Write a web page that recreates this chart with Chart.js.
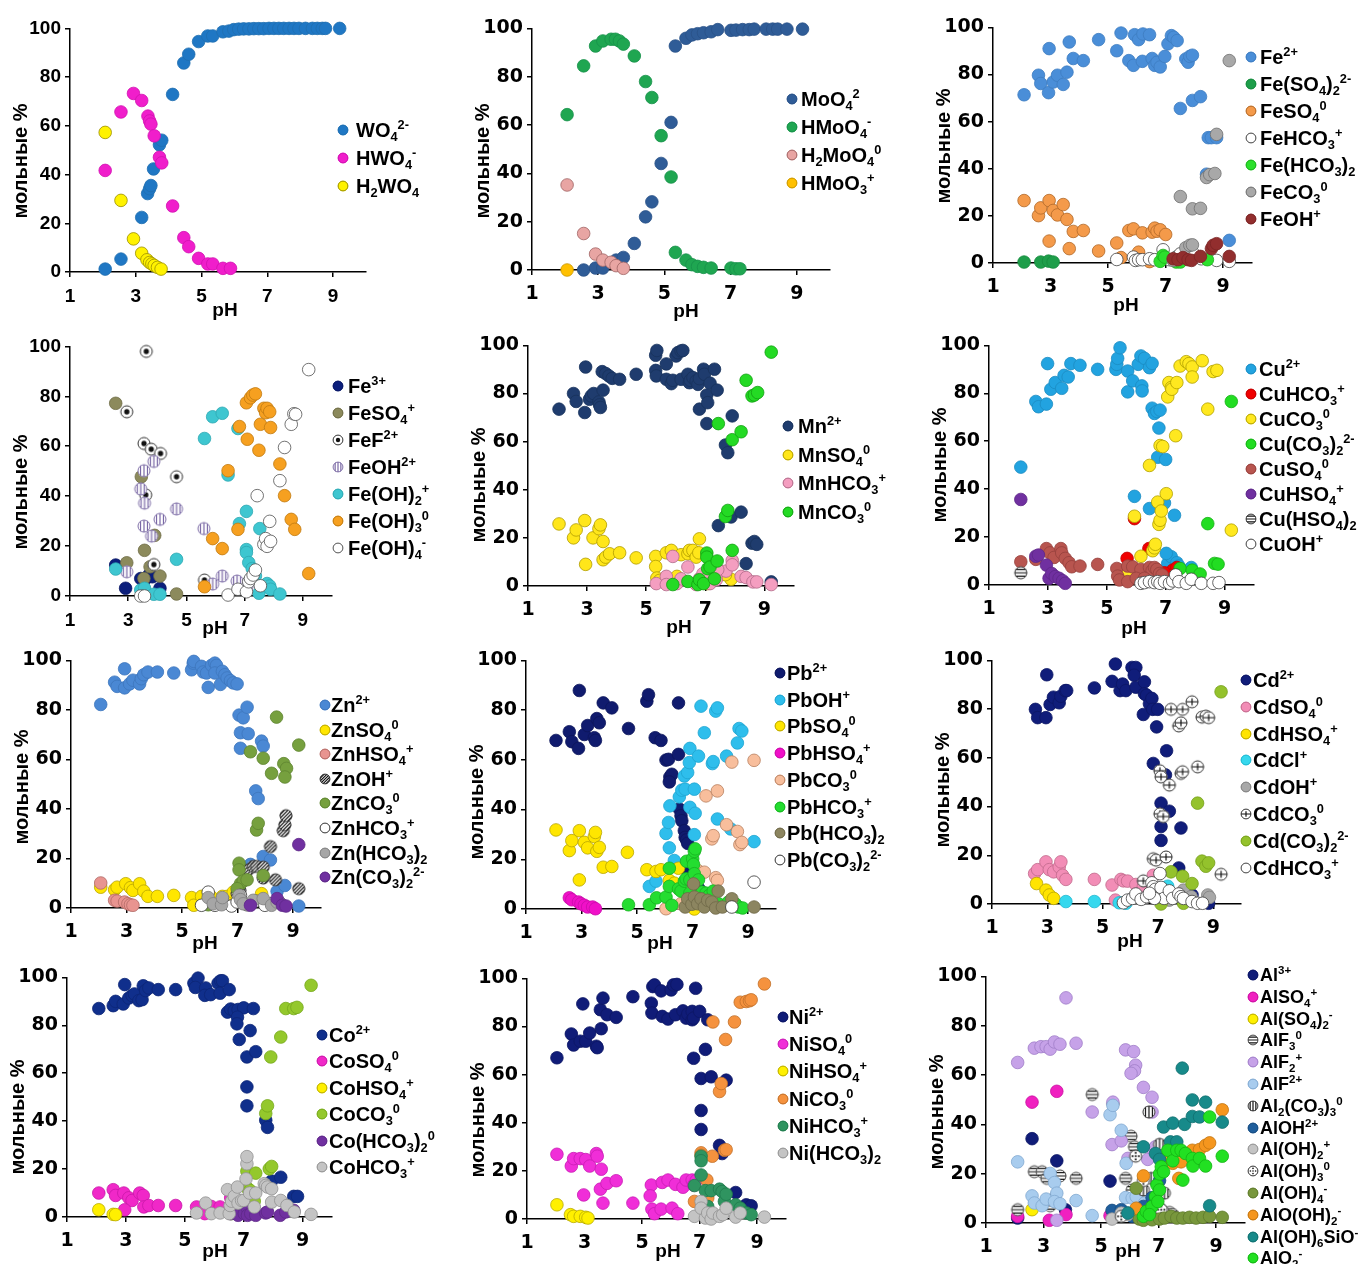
<!DOCTYPE html>
<html>
<head>
<meta charset="utf-8">
<script src="https://cdn.jsdelivr.net/npm/chart.js@4.4.0/dist/chart.umd.min.js"></script>
<style>
  body { margin: 0; background: #fff; width: 1360px; height: 1264px; position: relative; overflow: hidden; }
  canvas { position: absolute; }
  .lg { position: absolute; font-family: 'Liberation Sans', Arial, sans-serif; font-weight: bold; color: #000; white-space: nowrap; }
  .lg sub { font-size: 0.64em; vertical-align: -0.32em; line-height: 0; }
  .lg sup { font-size: 0.64em; vertical-align: 0.62em; line-height: 0; }
</style>
</head>
<body>
<script>
// axis ticks
const xTicks = [1, 3, 5, 7, 9];
const yTicks = [0, 20, 40, 60, 80, 100];

// --- W ---  [pH, mol %]
const wNames = ['WO<sub>4</sub><sup>2-</sup>', 'HWO<sub>4</sub><sup>-</sup>', 'H<sub>2</sub>WO<sub>4</sub>'];
const wo4 = [[2.07,1.2],[2.55,5.3],[3.18,22.4],[3.36,32.2],[3.42,34.2],[3.46,35.5],[3.54,42.3],[3.72,52.2],[3.79,54.1],[4.12,72.9],[4.46,85.8],[4.61,89.4],[4.91,94.6],[5.19,96.9],[5.34,96.9],[5.65,98.6],[5.83,98.9],[5.98,99.5],[6.13,99.7],[6.28,99.8],[6.44,99.8],[6.59,99.9],[6.74,99.9],[6.89,99.9],[7.05,100],[7.2,100],[7.35,100],[7.5,100],[7.66,100],[7.81,100],[7.96,100],[8.16,100],[8.37,100],[8.52,100],[8.67,100],[8.77,100],[9.2,100]];
const hwo4 = [[2.07,41.7],[2.55,65.7],[2.93,73.3],[3.18,70.4],[3.37,64.0],[3.42,62.0],[3.46,60.7],[3.56,55.9],[3.72,47.1],[3.79,44.8],[4.12,27.1],[4.46,14.1],[4.61,10.4],[4.91,5.6],[5.19,3.3],[5.34,3.3],[5.65,1.5],[5.88,1.5]];
const h2wo4 = [[2.07,57.3],[2.55,29.4],[2.93,13.6],[3.18,7.7],[3.34,5.0],[3.42,3.9],[3.49,3.3],[3.56,2.7],[3.66,1.9],[3.77,1.2]];

// --- Mo ---
const moNames = ['MoO<sub>4</sub><sup>2</sup>', 'HMoO<sub>4</sub><sup>-</sup>', 'H<sub>2</sub>MoO<sub>4</sub><sup>0</sup>', 'HMoO<sub>3</sub><sup>+</sup>'];
const moo4 = [[2.56,0],[2.92,0.8],[3.14,0.8],[3.54,4.1],[3.76,5.2],[4.09,11],[4.43,22],[4.62,28.2],[4.9,44.1],[5.2,61.1],[5.33,92.7],[5.65,95.9],[5.83,97.3],[6.0,97.8],[6.18,98.2],[6.41,98.6],[6.61,99.5],[7.01,99.2],[7.16,99.3],[7.36,99.5],[7.56,99.5],[7.71,99.7],[8.07,99.7],[8.27,99.7],[8.42,99.7],[8.7,99.7],[9.17,99.7]];
const hmoo4 = [[2.06,64.3],[2.56,84.5],[2.92,92.7],[3.14,94.8],[3.39,95.5],[3.52,95.5],[3.64,94.8],[3.76,93.5],[4.09,88.6],[4.43,78.0],[4.62,71.4],[4.9,55.6],[5.2,38.5],[5.33,7.3],[5.65,4.1],[5.83,2.2],[6.0,1.5],[6.18,1.1],[6.41,0.8],[7.01,0.8],[7.16,0.5],[7.28,0.5]];
const h2moo4 = [[2.06,35.2],[2.56,15.1],[2.92,6.6],[3.14,4.1],[3.39,3.2],[3.54,1.8],[3.76,0.7]];
const hmoo3 = [[2.06,0]];

// --- Fe(II) ---
const fe2Names = ['Fe<sup>2+</sup>', 'Fe(SO<sub>4</sub>)<sub>2</sub><sup>2-</sup>', 'FeSO<sub>4</sub><sup>0</sup>', 'FeHCO<sub>3</sub><sup>+</sup>', 'Fe(HCO<sub>3</sub>)<sub>2</sub>', 'FeCO<sub>3</sub><sup>0</sup>', 'FeOH<sup>+</sup>'];
const fe2 = [[2.08,71.4],[2.58,79.7],[2.66,76.2],[2.95,91.0],[2.93,72.3],[3.09,76.8],[3.24,79.7],[3.44,75.8],[3.57,81.0],[3.65,93.8],[3.79,86.8],[4.14,85.9],[4.67,94.8],[5.3,90.1],[5.45,97.6],[5.72,85.9],[5.88,83.9],[5.92,96.9],[6.06,94.8],[6.19,85.6],[6.21,97.2],[6.44,96.9],[6.53,86.8],[6.62,83.9],[6.7,85.2],[6.81,83.2],[6.97,87.7],[7.08,93.0],[7.2,96.5],[7.28,95.8],[7.4,94.4],[7.51,65.6],[7.7,86.6],[7.78,85.2],[7.84,87.7],[7.93,88.2],[7.93,69.0],[8.21,70.6],[8.48,53.2],[8.59,53.2],[8.77,53.2],[8.42,37.7],[9.21,9.6]];
const feso42 = [[2.08,0.4],[2.66,0.4],[2.93,0.8],[3.09,0.4]];
const feso4 = [[2.08,26.5],[2.58,20.1],[2.66,23.4],[2.95,26.5],[2.95,9.3],[3.09,22.3],[3.24,20.4],[3.44,24.8],[3.57,18.5],[3.65,6.1],[3.79,13.4],[4.14,13.8],[4.67,5.1],[5.3,8.5],[5.45,2.3],[5.72,13.8],[5.88,14.5],[6.06,4.6],[6.19,12.8],[6.53,13.1],[6.62,14.8],[6.7,13.5],[6.81,14.1],[7.0,12.1],[6.44,0.6]];
const fehco3 = [[5.3,1.5],[5.88,2.5],[5.95,1.1],[6.06,1.4],[6.19,1.4],[6.44,1.8],[6.62,1.4],[6.91,5.6],[7.14,1.4],[7.37,2.5],[7.51,3.9],[7.78,3.9],[7.93,4.6],[8.24,1.8],[8.77,1.1],[9.21,0.7]];
const fehco32 = [[6.81,0.7],[6.91,3.2],[6.97,2.5],[7.37,0.4],[7.51,0.4],[8.45,1.4]];
const feco3 = [[7.26,1.1],[7.51,28.2],[7.7,6.5],[7.84,7.5],[7.93,7.7],[7.93,23.0],[8.21,23.2],[8.42,36.3],[8.53,37.5],[8.71,38.0],[8.77,54.6],[9.21,85.9]];
const feoh = [[7.26,1.8],[7.43,1.4],[7.6,2.3],[7.78,1.4],[7.9,1.1],[8.21,2.8],[8.59,6.1],[8.65,7.5],[8.77,8.2],[9.21,2.8]];

// --- Fe(III) ---
const fe3Names = ['Fe<sup>3+</sup>', 'FeSO<sub>4</sub><sup>+</sup>', 'FeF<sup>2+</sup>', 'FeOH<sup>2+</sup>', 'Fe(OH)<sub>2</sub><sup>+</sup>', 'Fe(OH)<sub>3</sub><sup>0</sup>', 'Fe(OH)<sub>4</sub><sup>-</sup>'];
const fe3 = [[2.57,12.4],[2.91,3.1],[3.43,7.0],[3.56,6.4],[3.71,8.4],[3.83,7.7],[4.09,3.1]];
const feso4p = [[2.57,77.2],[2.95,13.3],[3.45,47.8],[3.56,18.3],[3.54,7.0],[3.75,11.7],[3.91,24.3],[4.09,8.0],[4.66,0.8]];
const fef = [[3.62,98.0],[2.95,73.8],[3.54,61.1],[3.79,58.8],[4.11,57.1],[3.6,40.5],[3.88,12.6],[4.66,47.8],[5.62,6.4]];
const feoh2 = [[2.95,9.7],[3.54,50.2],[3.43,42.9],[3.56,37.2],[3.54,28.0],[3.88,53.9],[3.8,24.0],[4.09,30.7],[4.66,34.9],[5.6,27.0],[5.9,4.8],[6.23,8.0],[6.74,6.0],[7.08,3.7]];
const feoh2p = [[2.57,10.8],[3.43,2.4],[3.56,3.1],[3.88,0.7],[4.09,0.7],[4.66,14.7],[5.62,63.1],[5.9,71.8],[6.23,73.2],[6.43,48.5],[6.77,67.1],[6.82,29.0],[7.06,33.9],[7.06,18.6],[7.06,17.4],[7.14,13.4],[7.26,11.0],[7.37,8.0],[7.49,1.1],[7.52,27.0],[7.77,5.0],[7.86,4.0],[7.89,2.7],[8.21,0.8]];
const feoh3 = [[5.62,3.7],[5.9,23.0],[6.23,19.0],[6.43,50.2],[6.77,26.7],[6.82,67.9],[7.06,77.4],[7.09,62.8],[7.2,79.4],[7.28,80.5],[7.37,81.0],[7.49,58.4],[7.54,68.8],[7.66,75.2],[7.72,73.4],[7.77,75.2],[7.86,73.8],[7.89,67.5],[8.21,52.9],[8.37,40.2],[8.6,30.7],[8.72,26.7],[9.2,9.0]];
const feoh4 = [[3.43,0],[3.56,0],[6.43,0.4],[6.77,2.7],[7.06,1.7],[7.14,5.7],[7.2,7.0],[7.29,8.4],[7.37,10.4],[7.43,40.2],[7.54,4.1],[7.66,20.7],[7.72,23.0],[7.77,19.9],[7.89,21.9],[7.86,29.9],[8.21,46.2],[8.37,59.5],[8.6,68.8],[8.69,73.0],[8.75,72.8],[9.2,90.7]];

// --- Mn ---
const mnNames = ['Mn<sup>2+</sup>', 'MnSO<sub>4</sub><sup>0</sup>', 'MnHCO<sub>3</sub><sup>+</sup>', 'MnCO<sub>3</sub><sup>0</sup>'];
const mn2 = [[2.05,73.5],[2.54,80.0],[2.63,76.7],[2.92,72.1],[2.95,91.0],[3.08,77.6],[3.14,79.0],[3.22,80.0],[3.4,76.5],[3.42,75.3],[3.45,74.2],[3.54,81.4],[3.51,89.1],[3.63,88.3],[3.74,87.3],[3.85,86.3],[4.1,85.9],[4.66,88.0],[5.32,95.9],[5.36,97.9],[5.32,89.6],[5.34,87.3],[5.68,92.3],[5.68,85.9],[5.85,84.1],[5.9,85.5],[6.01,95.6],[6.07,97.0],[6.18,97.7],[6.24,97.9],[6.18,85.9],[6.41,88.0],[6.46,84.5],[6.49,85.5],[6.58,86.6],[6.69,85.2],[6.75,83.8],[6.8,86.2],[6.8,73.5],[6.94,90.1],[6.97,88.0],[7.05,79.4],[7.08,76.2],[7.05,67.5],[7.16,84.3],[7.31,90.1],[7.4,81.4],[7.44,25.1],[7.68,58.6],[7.76,55.4],[7.91,70.7],[7.87,28.7],[8.21,30.7],[8.38,9.3],[8.58,17.8],[8.66,18.5],[8.74,17.3],[9.23,1.7]];
const mnso4 = [[2.05,25.8],[2.54,20.0],[2.63,23.3],[2.92,27.2],[2.95,9.0],[3.2,20.0],[3.4,23.8],[3.45,25.4],[3.54,18.5],[3.54,10.9],[3.63,12.0],[3.76,13.4],[4.1,13.8],[4.66,11.7],[5.32,12.3],[5.32,8.1],[5.36,3.3],[5.45,2.3],[5.68,13.8],[5.85,14.8],[6.04,4.0],[6.18,13.0],[6.41,13.4],[6.46,14.8],[6.58,14.8],[6.69,12.0],[6.78,13.8],[6.8,19.6],[7.08,1.0],[7.16,2.6],[7.87,2.8],[7.68,4.7]];
const mnhco3 = [[5.34,1.0],[5.68,4.0],[5.68,0.6],[5.9,12.3],[6.04,1.0],[6.18,3.0],[6.41,7.9],[6.69,0.6],[6.8,3.0],[6.92,5.1],[7.03,3.0],[7.16,1.0],[7.37,2.6],[7.48,6.2],[7.7,6.2],[7.91,10.6],[7.91,8.8],[8.21,4.0],[8.38,3.5],[8.61,1.7],[8.74,1.7],[9.23,0.6],[7.42,6.8]];
const mnco3 = [[5.9,0.6],[6.41,1.9],[6.75,0.6],[6.8,2.6],[6.94,1.0],[7.05,13.7],[7.05,12.0],[7.08,7.2],[7.16,7.9],[7.31,3.0],[7.4,10.4],[7.44,67.5],[7.68,28.9],[7.76,31.4],[7.91,14.8],[7.91,60.8],[8.21,64.1],[8.38,85.5],[8.58,79.0],[8.66,79.4],[8.77,80.4],[9.23,97.2]];

// --- Cu ---
const cuNames = ['Cu<sup>2+</sup>', 'CuHCO<sub>3</sub><sup>+</sup>', 'CuCO<sub>3</sub><sup>0</sup>', 'Cu(CO<sub>3</sub>)<sub>2</sub><sup>2-</sup>', 'CuSO<sub>4</sub><sup>0</sup>', 'CuHSO<sub>4</sub><sup>+</sup>', 'Cu(HSO<sub>4</sub>)<sub>2</sub>', 'CuOH<sup>+</sup>'];
const cu2 = [[2.08,49.2],[2.59,76.6],[2.68,74.4],[2.95,75.5],[2.99,92.4],[3.1,81.7],[3.25,84.5],[3.47,82.1],[3.55,87.5],[3.69,86.8],[3.78,92.4],[4.09,91.7],[4.69,90.0],[5.31,90.0],[5.34,92.1],[5.37,94.6],[5.45,99.0],[5.71,89.3],[5.71,80.6],[5.88,85.2],[5.94,37.0],[6.07,92.1],[6.16,95.6],[6.19,83.1],[6.2,81.0],[6.28,94.6],[6.45,90.7],[6.54,92.5],[6.45,31.9],[6.54,73.8],[6.62,71.6],[6.7,72.4],[6.81,73.0],[6.77,65.5],[6.73,53.3],[7.0,52.4],[6.96,34.2],[7.07,9.0],[7.19,11.8],[7.3,29.1],[7.38,9.3],[7.45,7.9],[7.87,7.3],[7.02,13.2]];
const cuhco3 = [[5.69,11.1],[5.94,27.7],[6.43,15.2],[7.24,6.2],[7.38,7.3],[6.96,5.1]];
const cuco3 = [[5.94,28.7],[5.69,6.0],[6.16,12.0],[6.45,49.9],[6.56,14.3],[6.62,15.5],[6.65,17.0],[6.73,34.6],[6.77,25.3],[6.81,27.0],[6.85,30.9],[6.81,58.2],[6.9,57.8],[7.02,38.1],[7.07,78.5],[7.11,84.5],[7.19,82.4],[7.21,81.7],[7.38,84.5],[7.34,62.3],[7.49,91.4],[7.7,93.2],[7.79,92.4],[7.9,91.0],[7.9,86.8],[8.24,93.6],[8.43,73.4],[8.61,89.1],[8.74,89.6],[9.23,22.9]];
const cuco32 = [[7.49,6.9],[7.9,6.2],[8.17,4.6],[8.43,25.6],[8.66,9.0],[8.78,8.7],[9.23,76.6]];
const cuso4 = [[2.08,9.7],[2.59,10.7],[2.95,15.2],[3.07,13.4],[3.21,11.5],[3.44,15.2],[3.47,13.4],[3.59,11.1],[3.72,9.3],[3.81,7.6],[4.09,7.9],[4.69,8.6],[5.34,6.9],[5.37,3.7],[5.43,2.1],[5.71,1.4],[5.71,7.9],[5.88,7.6],[6.16,6.5],[6.45,7.3],[6.54,6.0],[6.62,7.3],[6.7,6.5],[6.79,4.8],[6.88,4.2],[6.0,2.8],[6.28,2.8]];
const cuhso4 = [[2.08,35.7],[2.59,12.0],[2.68,12.5],[2.95,8.3],[3.04,2.8],[3.13,4.8],[3.25,3.5],[3.38,2.8],[3.5,1.8],[3.59,0.7]];
const cuhso42 = [[2.08,5.1]];
const cuoh = [[6.16,0.7],[6.28,1.0],[6.45,1.4],[6.62,1.0],[6.73,1.4],[6.81,0.7],[6.96,1.4],[7.13,0.7],[7.24,1.7],[7.34,4.2],[7.45,1.4],[7.7,0.7],[7.87,2.4],[8.21,0.7],[8.61,0.7],[8.81,1.0]];

// --- Zn ---
const znNames = ['Zn<sup>2+</sup>', 'ZnSO<sub>4</sub><sup>0</sup>', 'ZnHSO<sub>4</sub><sup>+</sup>', 'ZnOH<sup>+</sup>', 'ZnCO<sub>3</sub><sup>0</sup>', 'ZnHCO<sub>3</sub><sup>+</sup>', 'Zn(HCO<sub>3</sub>)<sub>2</sub>', 'Zn(CO<sub>3</sub>)<sub>2</sub><sup>2-</sup>'];
const zn2 = [[2.07,82.2],[2.57,91.2],[2.66,89.5],[2.93,88.9],[2.93,96.6],[3.11,90.5],[3.23,92.0],[3.47,90.5],[3.53,92.6],[3.62,94.2],[3.77,95.3],[4.11,95.3],[4.7,94.9],[5.34,96.2],[5.4,98.9],[5.42,99.6],[5.7,97.6],[5.76,95.3],[5.94,89.1],[5.88,94.9],[6.06,98.0],[6.18,98.9],[6.24,98.0],[6.18,94.9],[6.38,90.3],[6.45,95.6],[6.54,94.2],[6.62,92.9],[6.74,91.8],[6.84,90.9],[6.98,90.5],[7.05,77.9],[7.1,64.5],[7.1,70.8],[7.2,76.8],[7.34,81.1],[7.38,70.4],[7.65,47.3],[7.74,44.2],[7.86,67.4],[7.92,65.4],[7.92,20.8],[8.18,19.4],[7.46,17.6],[8.42,6.8],[8.7,9.1],[9.2,0.8]];
const znso4 = [[2.07,8.4],[2.57,7.4],[2.66,8.4],[2.97,9.8],[3.14,8.2],[3.23,7.1],[3.47,9.8],[3.62,6.8],[3.77,4.7],[4.11,4.7],[4.7,5.1],[5.34,4.2],[5.42,1.1],[5.7,4.7],[5.94,4.2],[6.06,4.4],[6.45,4.7],[6.62,4.7],[7.86,5.8],[6.84,6.4]];
const znhso4 = [[2.07,10.1],[2.57,3.1],[2.66,2.8],[2.93,2.4],[3.05,1.7],[3.14,1.3],[3.23,1.1]];
const znoh = [[7.38,15.4],[7.56,16.8],[7.68,16.8],[7.92,16.5],[7.92,12.1],[8.18,24.8],[8.36,11.4],[8.64,31.2],[8.7,33.6],[8.74,37.3],[9.2,7.8],[7.08,7.1],[6.98,5.8]];
const znco3 = [[5.94,1.3],[7.05,18.1],[7.05,15.4],[7.1,9.8],[7.2,10.9],[7.34,11.4],[7.46,63.1],[7.68,31.5],[7.74,34.2],[7.92,60.5],[7.92,13.1],[8.22,54.4],[8.4,77.1],[8.66,58.3],[8.76,56.4],[8.7,52.9],[9.2,65.8],[6.98,7.8]];
const znhco3 = [[5.7,1.1],[5.94,6.4],[6.18,1.1],[6.45,3.4],[6.78,0.8],[6.98,2.4],[7.1,5.1],[7.34,1.3],[7.65,2.8],[7.98,1.1],[8.22,1.7],[8.52,2.1]];
const znhco32 = [[5.94,4.2],[6.12,1.7],[6.42,1.3],[6.45,4.2],[7.05,5.1],[7.1,3.4],[7.2,1.7],[7.56,3.1],[7.92,3.8],[8.22,1.1],[8.42,2.4]];
const znco32 = [[7.46,1.1],[8.42,3.8],[8.61,1.1],[8.74,0.8],[9.2,25.6]];

// --- Pb ---
const pbNames = ['Pb<sup>2+</sup>', 'PbOH<sup>+</sup>', 'PbSO<sub>4</sub><sup>0</sup>', 'PbHSO<sub>4</sub><sup>+</sup>', 'PbCO<sub>3</sub><sup>0</sup>', 'PbHCO<sub>3</sub><sup>+</sup>', 'Pb(HCO<sub>3</sub>)<sub>2</sub>', 'Pb(CO<sub>3</sub>)<sub>2</sub><sup>2-</sup>'];
const pb2 = [[2.08,67.8],[2.56,71.3],[2.65,67.3],[2.89,64.6],[2.92,87.9],[3.1,70.2],[3.22,73.8],[3.46,68.9],[3.5,67.8],[3.55,76.6],[3.64,74.9],[3.78,82.9],[4.09,80.9],[4.69,72.6],[5.35,83.6],[5.41,86.2],[5.65,68.9],[5.86,67.8],[6.04,59.9],[6.13,60.2],[6.18,53.1],[6.25,54.2],[6.16,51.1],[6.49,82.9],[6.49,62.2],[6.52,40.2],[6.58,37.5],[6.61,35.5],[6.7,31.5],[6.73,28.8],[6.78,27.8],[6.82,26.4],[6.78,15.8],[7.23,8.1]];
const pboh = [[5.44,9.1],[5.68,11.2],[6.04,30.4],[6.13,34.8],[6.16,24.6],[6.18,41.5],[6.34,19.5],[6.52,45.1],[6.61,47.8],[6.7,53.5],[6.73,48.2],[6.82,54.9],[6.88,58.9],[6.9,64.6],[6.9,40.9],[7.06,29.9],[7.06,48.2],[7.09,38.5],[7.21,61.5],[7.3,81.6],[7.42,70.9],[7.71,58.5],[7.74,59.3],[7.83,79.6],[7.89,80.9],[7.89,36.2],[8.22,61.5],[8.37,32.2],[8.61,66.8],[8.67,72.6],[8.77,71.6],[9.21,27.1]];
const pbso4 = [[2.08,31.8],[2.56,23.5],[2.65,27.5],[2.92,31.5],[2.92,11.7],[3.1,26.8],[3.22,24.6],[3.46,29.1],[3.5,30.8],[3.55,23.2],[3.64,24.8],[3.78,16.8],[4.09,17.1],[4.65,22.8],[5.35,15.8],[5.68,15.1],[5.86,15.8],[6.16,11.5],[6.34,10.4],[6.49,16.4],[7.0,0.8],[7.06,0]];
const pbhso4 = [[2.56,4.5],[2.65,3.7],[2.89,2.8],[2.98,2.1],[3.1,1.5],[3.22,0.8],[3.4,0.8],[3.5,0.1]];
const pbco3 = [[6.04,0.1],[6.58,2.1],[6.88,7.5],[7.18,15.5],[7.42,14.8],[7.48,45.5],[7.69,28.2],[7.74,29.5],[7.83,12.6],[7.89,11.5],[7.89,47.5],[8.22,33.9],[8.41,59.1],[8.61,31.2],[8.7,25.9],[8.77,26.8],[9.21,59.8]];
const pbhco3 = [[4.69,1.7],[5.44,1.7],[5.7,4.5],[6.04,4.8],[6.16,16.4],[6.16,9.1],[6.25,1.5],[6.49,8.1],[6.58,7.2],[6.7,11.2],[6.76,12.1],[6.78,19.2],[6.9,11.7],[6.9,6.4],[7.0,20.2],[7.03,17.9],[7.06,23.2],[7.09,24.2],[7.06,14.2],[7.21,11.7],[7.34,6.8],[7.48,6.4],[7.6,5.5],[7.74,7.2],[7.93,2.1],[8.29,2.8],[8.53,2.1],[8.65,0.8],[8.8,0.4]];
const pbhco32 = [[6.73,0.8],[6.82,4.1],[6.97,1.9],[7.03,10.1],[7.06,4.8],[7.18,2.1],[7.3,4.1],[7.42,0.8],[7.54,3.5],[7.69,2.8],[7.83,0.4],[7.92,7.2],[8.07,0.8],[8.41,4.1],[9.21,0.8]];
const pbco32 = [[8.41,0.8],[9.21,10.8]];

// --- Cd ---
const cdNames = ['Cd<sup>2+</sup>', 'CdSO<sub>4</sub><sup>0</sup>', 'CdHSO<sub>4</sub><sup>+</sup>', 'CdCl<sup>+</sup>', 'CdOH<sup>+</sup>', 'CdCO<sub>3</sub><sup>0</sup>', 'Cd(CO<sub>3</sub>)<sub>2</sub><sup>2-</sup>', 'CdHCO<sub>3</sub><sup>+</sup>'];
const cd2 = [[2.57,79.9],[2.65,76.5],[2.95,76.5],[2.98,94.1],[3.1,81.9],[3.22,84.9],[3.43,82.6],[3.49,85.3],[3.65,87.6],[3.7,87.6],[4.7,88.7],[5.34,91.4],[5.46,98.5],[5.63,87.6],[5.72,90.3],[5.84,87.6],[6.06,97.1],[6.2,97.1],[6.14,93.9],[6.2,89.0],[6.47,77.8],[6.51,91.2],[6.51,86.3],[6.59,85.7],[6.69,82.2],[6.78,84.4],[6.81,79.9],[6.99,79.9],[6.95,72.7],[6.83,57.7],[7.11,41.4],[7.27,53.0],[7.31,62.9],[7.41,38.1],[7.11,31.8],[7.11,26.1],[7.83,31.2],[7.75,14.8],[8.23,3.7],[8.83,0.3]];
const cdso4 = [[2.54,12.5],[2.65,14.1],[2.95,17.3],[3.07,14.1],[3.23,13.2],[3.43,15.2],[3.49,17.3],[3.55,11.8],[3.67,10.1],[4.7,10.1],[5.34,7.8],[5.66,10.1],[5.75,9.5],[5.9,9.4],[6.2,8.0],[6.47,7.1],[6.83,11.8],[5.46,1.6]];
const cdhso4 = [[2.61,8.4],[2.95,5.7],[3.07,3.7],[3.23,2.3]];
const cdcl = [[3.67,1.0],[4.7,1.0],[5.6,0.5],[7.35,7.3],[5.84,0.3]];
const cdoh = [[7.92,5.7],[8.2,3.0],[8.8,3.7],[8.86,2.7],[7.41,1.6],[6.51,2.3]];
const cdco3 = [[7.47,79.9],[7.89,79.9],[8.23,83.0],[7.75,73.1],[7.83,74.4],[8.43,56.3],[7.83,53.6],[7.89,54.3],[7.07,54.7],[7.11,52.2],[7.41,48.8],[7.07,37.0],[7.19,35.9],[8.59,76.7],[8.73,77.1],[8.83,76.5],[6.83,18.6],[6.93,18.0],[7.29,19.3],[9.28,12.2],[6.47,9.5]];
const cdco32 = [[7.11,0],[7.47,13.2],[7.89,11.4],[8.23,8.4],[8.43,41.4],[8.59,17.6],[8.73,15.5],[8.83,16.9],[9.28,87.1],[7.92,0.3]];
const cdhco3 = [[5.75,0.5],[5.9,1.6],[6.08,2.3],[6.2,4.1],[6.39,1.9],[6.59,3.0],[6.78,8.7],[6.83,7.1],[6.9,6.0],[7.02,3.0],[7.07,12.5],[7.11,6.8],[7.22,2.3],[7.41,5.4],[7.53,2.3],[7.75,4.1],[7.83,3.0],[7.92,2.3],[8.23,1.0],[8.43,0.3],[8.61,0.3],[6.87,2.3],[6.69,4.4]];

// --- Co ---
const coNames = ['Co<sup>2+</sup>', 'CoSO<sub>4</sub><sup>0</sup>', 'CoHSO<sub>4</sub><sup>+</sup>', 'CoCO<sub>3</sub><sup>0</sup>', 'Co(HCO<sub>3</sub>)<sub>2</sub><sup>0</sup>', 'CoHCO<sub>3</sub><sup>+</sup>'];
const co2 = [[2.08,87.0],[2.57,88.2],[2.65,90.0],[2.91,88.9],[2.96,97.0],[3.1,91.4],[3.21,92.4],[3.29,93.1],[3.44,90.3],[3.55,90.7],[3.59,96.5],[3.67,94.5],[3.78,95.6],[4.1,94.9],[4.69,94.9],[5.31,97.6],[5.45,99.7],[5.36,95.8],[5.71,95.6],[5.68,92.5],[5.88,92.8],[6.13,97.6],[6.22,98.6],[6.28,98.6],[6.2,93.4],[6.51,94.9],[6.45,85.5],[6.56,86.8],[6.68,86.1],[6.81,86.6],[7.0,87.3],[6.79,83.4],[6.77,80.6],[6.85,74.1],[7.11,66.8],[7.22,77.8],[7.33,87.0],[7.41,69.0],[7.11,54.3],[7.11,46.4],[7.75,40.4],[7.81,37.4],[7.95,15.0],[8.26,16.6],[8.7,8.6],[8.83,8.6]];
const coso4 = [[2.08,10.0],[2.57,11.4],[2.65,9.0],[2.93,10.0],[3.1,8.0],[3.21,6.9],[3.47,10.0],[3.59,9.0],[3.61,4.2],[3.78,4.8],[4.1,4.8],[4.69,4.8],[5.4,4.2],[5.9,4.4],[6.2,4.2],[6.56,8.0],[2.96,3.0],[5.68,1.4]];
const cohso4 = [[2.08,3.0],[2.57,1.1],[2.65,1.0]];
const coco3 = [[7.11,19.1],[7.11,12.2],[7.22,11.1],[7.36,6.6],[7.41,18.3],[7.75,43.2],[7.81,46.4],[7.87,20.1],[7.95,21.1],[7.92,66.8],[8.26,75.1],[8.43,87.0],[8.7,87.0],[8.81,87.5],[9.29,96.7],[6.58,1.4],[6.81,4.4]];
const cohco32 = [[6.56,1.4],[6.81,0.7],[7.02,1.4],[7.11,3.9],[7.13,0.7],[7.24,1.4],[7.41,0.7],[7.75,1.7],[7.81,2.1],[8.24,0.7],[8.43,2.1],[8.7,2.8]];
const cohco3 = [[5.71,5.8],[5.4,1.7],[5.9,1.4],[6.2,1.7],[6.45,11.4],[6.51,1.4],[6.54,4.8],[6.59,6.6],[6.68,8.6],[6.79,12.5],[6.81,5.8],[6.93,6.9],[7.0,6.9],[7.08,15.9],[7.11,22.2],[7.11,25.2],[7.2,10.0],[7.36,4.2],[7.41,10.0],[7.7,13.9],[7.75,13.2],[7.81,12.5],[7.95,11.8],[7.95,6.2],[8.26,6.9],[8.47,4.8],[8.72,2.1],[9.29,1.1]];

// --- Ni ---
const niNames = ['Ni<sup>2+</sup>', 'NiSO<sub>4</sub><sup>0</sup>', 'NiHSO<sub>4</sub><sup>+</sup>', 'NiCO<sub>3</sub><sup>0</sup>', 'NiHCO<sub>3</sub><sup>+</sup>', 'Ni(HCO<sub>3</sub>)<sub>2</sub>'];
const ni2 = [[2.04,67.0],[2.54,76.9],[2.62,72.3],[2.85,73.9],[2.94,89.4],[3.04,73.9],[3.18,77.3],[3.41,71.8],[3.44,71.2],[3.58,79.1],[3.55,87.0],[3.64,91.8],[3.78,84.9],[4.1,83.8],[4.68,92.4],[5.32,89.7],[5.34,85.6],[5.37,96.6],[5.43,97.3],[5.66,94.8],[5.7,84.2],[5.9,83.1],[6.01,95.2],[6.09,97.3],[6.21,97.5],[6.16,84.9],[6.42,86.5],[6.53,83.5],[6.59,85.2],[6.74,82.8],[6.74,86.3],[6.79,83.5],[7.0,86.3],[6.79,66.8],[6.86,95.9],[7.05,58.4],[7.05,45.1],[7.05,37.2],[7.2,70.5],[7.28,82.8],[7.4,59.1],[7.69,30.6],[7.78,27.2],[7.92,57.7],[8.25,11.0],[8.62,5.9],[8.79,5.5]];
const niso4 = [[2.04,26.9],[2.54,22.0],[2.62,25.1],[2.85,25.1],[2.97,10.0],[3.04,24.7],[3.18,22.0],[3.41,27.2],[3.44,26.1],[3.58,20.7],[3.55,12.4],[3.64,6.6],[3.78,14.8],[4.1,15.9],[4.68,6.6],[5.32,14.1],[5.28,9.6],[5.34,4.1],[5.43,2.2],[5.66,4.1],[5.7,15.2],[5.9,16.2],[6.04,4.5],[6.16,14.4],[6.24,2.2],[6.42,13.2],[6.53,16.2],[6.74,16.2],[6.79,14.1],[6.88,15.9]];
const nihso4 = [[2.04,5.9],[2.51,1.8],[2.62,1.1],[2.85,1.1],[3.04,0.7],[3.12,0.4]];
const nico3 = [[6.82,7.3],[7.05,27.5],[7.05,26.5],[7.25,16.2],[7.28,8.7],[7.46,81.9],[7.44,26.1],[7.69,53.0],[7.75,56.3],[7.9,74.6],[7.86,28.6],[7.92,28.8],[8.21,81.9],[8.41,90.1],[8.62,90.4],[8.73,90.7],[8.79,91.1],[9.25,97.7]];
const nihco3 = [[6.82,13.9],[7.05,26.1],[7.05,24.2],[7.05,18.3],[7.2,11.8],[7.28,5.2],[7.4,11.8],[7.69,12.4],[7.78,11.4],[7.86,7.3],[7.92,10.3],[8.25,5.9],[8.41,4.5],[8.62,2.5],[8.79,1.8]];
const nihco32 = [[6.82,1.1],[7.05,7.3],[7.05,4.5],[7.2,0.4],[7.28,2.5],[7.4,0],[7.46,2.5],[7.69,1.1],[7.8,1.8],[7.92,4.5],[8.25,0.8],[8.41,2.5],[9.25,0.8]];

// --- Al ---
const alNames = ['Al<sup>3+</sup>', 'AlSO<sub>4</sub><sup>+</sup>', 'Al(SO<sub>4</sub>)<sub>2</sub><sup>-</sup>', 'AlF<sub>3</sub><sup>0</sup>', 'AlF<sub>2</sub><sup>+</sup>', 'AlF<sup>2+</sup>', 'Al<sub>2</sub>(CO<sub>3</sub>)<sub>3</sub><sup>0</sup>', 'AlOH<sup>2+</sup>', 'Al(OH)<sub>2</sub><sup>+</sup>', 'Al(OH)<sub>3</sub><sup>0</sup>', 'Al(OH)<sub>4</sub><sup>-</sup>', 'AlO(OH)<sub>2</sub><sup>-</sup>', 'Al(OH)<sub>6</sub>SiO<sup>-</sup>', 'AlO<sub>2</sub><sup>-</sup>'];
const al3 = [[2.1,2.0],[2.6,34.2],[3.46,25.2],[3.76,5.4],[5.31,17.0]];
const also4 = [[2.1,2.7],[2.6,49.0],[3.2,1.1],[3.46,53.4],[3.78,3.4],[5.31,3.0]];
const also42 = [[2.6,5.4]];
const alf3 = [[2.1,5.4],[2.68,20.8],[2.95,20.8],[3.11,18.1],[3.23,7.0],[3.38,10.1],[3.57,19.1],[4.13,18.1],[4.69,52.1],[5.41,48.3],[5.85,18.1],[6.04,35.2],[6.16,30.9],[6.08,13.4],[7.03,6.0],[7.12,4.7],[7.2,4.0],[7.38,4.3],[7.49,3.4]];
const alf2 = [[2.1,65.1],[2.68,70.9],[2.91,71.5],[3.09,71.5],[3.23,70.5],[3.38,73.4],[3.57,72.5],[3.78,91.3],[4.13,72.9],[4.69,45.0],[5.41,49.0],[5.38,31.8],[5.7,33.3],[5.85,70.2],[6.13,69.5],[6.2,64.0],[6.16,61.7],[6.04,60.7],[5.93,26.2],[6.47,55.0],[6.77,51.0],[6.77,45.0],[6.62,25.8],[6.8,29.8],[6.89,30.9],[3.46,1.1]];
const alf = [[2.1,24.8],[2.6,11.0],[2.68,8.1],[2.95,7.0],[3.09,9.7],[3.23,20.1],[3.38,16.4],[3.46,12.1],[3.38,8.7],[3.57,7.8],[4.13,9.1],[4.69,3.0],[5.31,43.9],[5.41,47.7],[5.7,37.6],[5.87,24.2],[5.85,10.3],[6.08,10.1],[6.22,10.7],[6.51,8.1]];
const al2co33 = [[6.66,45.0],[7.03,31.9],[6.74,18.1],[6.47,13.4],[7.2,12.1],[6.74,7.8],[7.14,4.7]];
const aloh2 = [[5.38,5.1],[5.7,5.4],[5.93,4.0],[6.08,2.7],[6.22,3.4],[6.47,6.7],[6.77,10.3],[7.03,17.2]];
const aloh2p = [[5.38,1.6],[5.7,4.0],[5.93,3.4],[6.33,2.0],[6.86,6.7]];
const aloh3 = [[5.7,2.7],[6.2,27.1],[6.47,17.2],[6.74,6.0],[7.09,5.4]];
const aloh4 = [[6.22,14.1],[6.33,1.6],[6.47,1.1],[6.77,1.3],[7.03,1.6],[7.2,2.0],[7.43,2.7],[7.63,2.0],[7.84,2.0],[8.07,2.3],[8.3,2.0],[8.54,2.3],[8.77,2.7],[9.21,2.3]];
const alooh2 = [[6.47,19.1],[6.22,6.0],[7.14,25.8],[7.49,24.2],[7.78,24.8],[7.7,18.1],[8.17,29.5],[8.42,29.8],[8.63,31.5],[8.77,32.5],[9.21,45.9]];
const aloh6sio = [[5.93,4.0],[6.47,30.9],[6.89,28.2],[7.03,25.8],[7.17,38.9],[7.49,40.5],[7.41,32.9],[7.63,32.9],[7.82,62.8],[7.9,40.0],[8.17,49.9],[8.17,43.2],[8.42,43.0],[8.63,49.0],[8.77,7.0],[9.21,40.9]];
const alo2 = [[6.47,2.7],[6.57,4.7],[6.77,6.7],[6.89,10.7],[6.94,15.4],[7.03,19.9],[7.09,22.8],[7.17,20.8],[7.32,29.5],[7.49,25.2],[7.63,29.5],[7.78,29.5],[7.84,17.4],[7.93,28.2],[8.17,26.2],[8.19,23.1],[8.42,26.2],[8.63,23.1],[8.77,43.0],[9.21,27.1],[6.68,3.4],[7.03,13.4],[6.97,8.7]];

// marker styles: [fill, border]; 'pat:*' = hatched white marker
const wStyle = [['#1F77C4','#1F6FB0'],['#F01ECB','#D010B0'],['#FFF200','#9A8E00']];
const moStyle = [['#2F5C97','#2A5288'],['#1FA651','#17904A'],['#E8A5A3','#A06464'],['#FFC000','#C89600']];
const fe2Style = [['#4A8ED8','#3E7CC0'],['#1E9E4A','#168A3E'],['#F49A4A','#B06828'],['#FFFFFF','#404040'],['#2CE02C','#1CB01C'],['#A8A8A8','#707070'],['#922E2E','#7A2424']];
const fe3Style = [['#0C1F7C','#0A1866'],['#8C8A5C','#6E6C46'],['pat:dot','#303030'],['pat:vpurple','#8070A8'],['#3EC6D0','#2EA8B2'],['#F6A020','#C07A10'],['#FFFFFF','#505050']];
const mnStyle = [['#1F3C6E','#18325C'],['#FFE61A','#B09C00'],['#F49EC0','#B06A88'],['#24DA24','#12A012']];
const cuStyle = [['#22A3E0','#1C8CC2'],['#F00000','#C00000'],['#FFE81F','#B0A000'],['#22DD22','#14B014'],['#B8554F','#96403C'],['#7030A0','#5E2888'],['pat:hline','#303030'],['#FFFFFF','#404040']];
const znStyle = [['#4A88D4','#3E76BC'],['#FFE600','#B8A400'],['#E89490','#B06864'],['pat:diag','#303030'],['#76A03E','#5E8430'],['#FFFFFF','#303030'],['#A6A6A6','#808080'],['#7030A0','#5E2888']];
const pbStyle = [['#101B6E','#0C155A'],['#2EBEEC','#20A4D0'],['#FFE600','#B8A400'],['#F010C8','#C80CA8'],['#F8BE9C','#B88060'],['#24DD30','#16B020'],['#8C8560','#6E6848'],['#FFFFFF','#303030']];
const cdStyle = [['#101D7A','#0C1664'],['#F28DB6','#C06A8C'],['#FFE400','#B8A400'],['#36D8EE','#20B8D0'],['#A8A8A8','#808080'],['pat:cross','#303030'],['#94C22C','#76A01C'],['#FFFFFF','#404040']];
const coStyle = [['#102F8C','#0C2676'],['#F028C8','#C818A8'],['#FFF000','#B8AA00'],['#94C82C','#76A81C'],['#7030A0','#5E2888'],['#C4C4C4','#909090']];
const niStyle = [['#101C78','#0C1664'],['#F02ED8','#C81CB4'],['#FFF000','#B8AA00'],['#F5923E','#C0702A'],['#2F9460','#207A4C'],['#C4C4C4','#909090']];
const alStyle = [['#101C78','#0C1664'],['#F020C0','#C810A0'],['#FFF000','#B8AA00'],['pat:hline','#404040'],['#C6A2E8','#A07EC8'],['#A8CCEE','#80A8D0'],['pat:vline','#303030'],['#1F5E9C','#184C80'],['#C4C4C4','#909090'],['pat:dots','#303030'],['#78973C','#5E7A2C'],['#F5961E','#C07410'],['#178A8A','#106E6E'],['#22E022','#14B414']];

const panels = [
  { names: wNames, series: [wo4, hwo4, h2wo4], style: wStyle },
  { names: moNames, series: [moo4, hmoo4, h2moo4, hmoo3], style: moStyle },
  { names: fe2Names, series: [fe2, feso42, feso4, fehco3, fehco32, feco3, feoh], style: fe2Style },
  { names: fe3Names, series: [fe3, feso4p, fef, feoh2, feoh2p, feoh3, feoh4], style: fe3Style },
  { names: mnNames, series: [mn2, mnso4, mnhco3, mnco3], style: mnStyle },
  { names: cuNames, series: [cu2, cuhco3, cuco3, cuco32, cuso4, cuhso4, cuhso42, cuoh], style: cuStyle },
  { names: znNames, series: [zn2, znso4, znhso4, znoh, znco3, znhco3, znhco32, znco32], style: znStyle },
  { names: pbNames, series: [pb2, pboh, pbso4, pbhso4, pbco3, pbhco3, pbhco32, pbco32], style: pbStyle },
  { names: cdNames, series: [cd2, cdso4, cdhso4, cdcl, cdoh, cdco3, cdco32, cdhco3], style: cdStyle },
  { names: coNames, series: [co2, coso4, cohso4, coco3, cohco32, cohco3], style: coStyle },
  { names: niNames, series: [ni2, niso4, nihso4, nico3, nihco3, nihco32], style: niStyle },
  { names: alNames, series: [al3, also4, also42, alf3, alf2, alf, al2co33, aloh2, aloh2p, aloh3, aloh4, alooh2, aloh6sio, alo2], style: alStyle }
];

// page layout of each panel (pixels): axis frame, axis titles, legend [markerX, firstY, step, textX, fontSize]
// wide: the tick numbers in that panel of the original are drawn wider
const frames = [
  { x0: 70,  x10: 366,  yT: 27,  yB: 272,  phX: 225,  phY: 311,  tY: 161,  wide: false, leg: [343, 130, 28, 356, 20] },
  { x0: 532, x10: 830,  yT: 27,  yB: 270,  phX: 686,  phY: 312,  tY: 161,  wide: true,  leg: [792, 99, 28, 801, 20] },
  { x0: 993, x10: 1252, yT: 26,  yB: 263,  phX: 1126, phY: 306,  tY: 146,  wide: true,  leg: [1251, 57, 27, 1260, 20] },
  { x0: 70,  x10: 332,  yT: 345, yB: 596,  phX: 215,  phY: 629,  tY: 492,  wide: false, leg: [338, 386, 27, 348, 20] },
  { x0: 528, x10: 794,  yT: 344, yB: 586,  phX: 679,  phY: 628,  tY: 485,  wide: true,  leg: [788, 426, 28.7, 798, 20] },
  { x0: 989, x10: 1254, yT: 344, yB: 585,  phX: 1134, phY: 629,  tY: 465,  wide: true,  leg: [1251, 369, 25, 1259, 20] },
  { x0: 71,  x10: 321,  yT: 659, yB: 908,  phX: 205,  phY: 944,  tY: 787,  wide: true,  leg: [325, 705, 24.6, 331, 20] },
  { x0: 526, x10: 776,  yT: 659, yB: 909,  phX: 660,  phY: 944,  tY: 802,  wide: true,  leg: [780, 673, 26.7, 787, 20] },
  { x0: 992, x10: 1241, yT: 659, yB: 904,  phX: 1130, phY: 942,  tY: 790,  wide: true,  leg: [1246, 680, 26.8, 1253, 20] },
  { x0: 67,  x10: 332,  yT: 976, yB: 1217, phX: 215,  phY: 1252, tY: 1117, wide: true,  leg: [322, 1035, 26.4, 329, 20] },
  { x0: 527, x10: 786,  yT: 977, yB: 1219, phX: 668,  phY: 1252, tY: 1120, wide: true,  leg: [783, 1017, 27.2, 789, 20] },
  { x0: 986, x10: 1245, yT: 975, yB: 1223, phX: 1128, phY: 1252, tY: 1112, wide: true,  leg: [1253, 975, 21.8, 1260, 18] }
];

const FONT = "'Liberation Sans', Arial, sans-serif";
const WIDE_FONT = "'DejaVu Sans', 'Liberation Sans', sans-serif";

function hatch(g, kind, m, r) {
  g.strokeStyle = kind === 'vpurple' ? '#7A68A6' : '#111';
  g.fillStyle = '#111';
  g.lineWidth = 1.2;
  const st = r * 0.55;
  g.beginPath();
  for (let k = -2; k <= 2; k++) {
    const d = k * st;
    if (kind === 'hline' && Math.abs(k) < 2) { g.moveTo(m - r, m + d); g.lineTo(m + r, m + d); }
    if ((kind === 'vline' || kind === 'vpurple') && Math.abs(k) < 2) { g.moveTo(m + d, m - r); g.lineTo(m + d, m + r); }
    if (kind === 'diag') { g.moveTo(m + d - r, m + r); g.lineTo(m + d + r, m - r); }
  }
  if (kind === 'cross') { g.moveTo(m - r, m); g.lineTo(m + r, m); g.moveTo(m, m - r * 0.55); g.lineTo(m, m + r * 0.55); }
  g.stroke();
  if (kind === 'dot') { g.beginPath(); g.arc(m, m, r * 0.42, 0, 2 * Math.PI); g.fill(); }
  if (kind === 'dots') {
    for (let i = -1; i <= 1; i++) for (let j = -1; j <= 1; j++) {
      if (i && j) continue;
      g.beginPath(); g.arc(m + i * r * 0.5, m + j * r * 0.5, r * 0.16, 0, 2 * Math.PI); g.fill();
    }
  }
}

function markerCanvas(fill, stroke, r) {
  const s = Math.ceil(2 * r + 3), m = s / 2;
  const c = document.createElement('canvas');
  c.width = c.height = s;
  const g = c.getContext('2d');
  const pat = fill.startsWith('pat:');
  g.beginPath(); g.arc(m, m, r, 0, 2 * Math.PI);
  g.fillStyle = pat ? '#fff' : fill;
  g.fill();
  if (pat) { g.save(); g.clip(); hatch(g, fill.slice(4), m, r); g.restore(); }
  g.lineWidth = 1; g.strokeStyle = stroke;
  g.beginPath(); g.arc(m, m, r - 0.3, 0, 2 * Math.PI); g.stroke();
  return c;
}

// draws pH and "мольные %" titles where the original figure has them
const axisTitles = {
  id: 'axisTitles',
  afterDraw(chart, args, o) {
    const c = chart.ctx;
    c.save();
    c.fillStyle = '#000';
    c.textAlign = 'center';
    c.textBaseline = 'middle';
    c.font = 'bold 19px ' + FONT;
    c.fillText('pH', o.px, o.py);
    c.font = 'bold 20px ' + FONT;
    c.translate(o.tx, o.ty);
    c.rotate(-Math.PI / 2);
    c.fillText('мольные %', 0, 0);
    c.restore();
  }
};

const L = 62, T = 14, R = 14;

panels.forEach((p, k) => {
  const f = frames[k];
  const B = f.phY + 14 - f.yB;
  const w = f.x10 - f.x0 + L + R, h = f.yB - f.yT + T + B;
  const left = f.x0 - L, top = f.yT - T;
  const cv = document.createElement('canvas');
  cv.width = w; cv.height = h;
  cv.style.left = left + 'px'; cv.style.top = top + 'px';
  document.body.appendChild(cv);

  const n = p.series.length;
  const datasets = p.series.map((pts, i) => {
    const [fill, stroke] = p.style[i];
    const pat = fill.startsWith('pat:');
    return {
      label: p.names[i].replace(/<[^>]+>/g, ''),
      data: pts.map(([x, y]) => ({ x, y })),
      pointStyle: pat ? markerCanvas(fill, stroke, 6.3) : 'circle',
      pointRadius: 6.3,
      backgroundColor: pat ? '#fff' : fill,
      borderColor: stroke,
      borderWidth: 0.8,
      order: n - i,
      clip: false
    };
  });

  const tickFont = { family: f.wide ? WIDE_FONT : FONT, size: 19, weight: 'bold' };
  const axisBase = {
    type: 'linear',
    grid: { display: true, drawOnChartArea: false, drawTicks: true, tickLength: 5, color: '#000', lineWidth: 1.5 },
    border: { display: true, color: '#000', width: 1.5 },
    title: { display: false }
  };

  new Chart(cv, {
    type: 'scatter',
    data: { datasets },
    options: {
      responsive: false,
      animation: false,
      layout: { padding: { left: 0, top: T, right: R, bottom: 0 } },
      plugins: {
        legend: { display: false },
        tooltip: { enabled: false },
        axisTitles: { px: f.phX - left, py: f.phY - top, tx: f.x0 - 49 - left, ty: f.tY - top }
      },
      scales: {
        x: Object.assign({}, axisBase, {
          min: 1, max: 10,
          afterBuildTicks: s => { s.ticks = xTicks.map(v => ({ value: v })); },
          afterFit: s => { s.height = B; },
          ticks: { color: '#000', font: tickFont, padding: 8, maxRotation: 0, autoSkip: false }
        }),
        y: Object.assign({}, axisBase, {
          min: 0, max: 100,
          afterBuildTicks: s => { s.ticks = yTicks.map(v => ({ value: v })); },
          afterFit: s => { s.width = L; },
          ticks: { color: '#000', font: tickFont, padding: 4, autoSkip: false }
        })
      }
    },
    plugins: [axisTitles]
  });

  // legend
  const [mx, y0, dy, tx, fs] = f.leg;
  p.names.forEach((name, i) => {
    const cy = y0 + i * dy;
    const m = markerCanvas(p.style[i][0], p.style[i][1], 5.2);
    m.style.left = (mx - m.width / 2) + 'px';
    m.style.top = (cy - m.height / 2) + 'px';
    document.body.appendChild(m);
    const t = document.createElement('div');
    t.className = 'lg';
    t.style.left = tx + 'px';
    t.style.top = (cy - fs / 2) + 'px';
    t.style.fontSize = fs + 'px';
    t.style.lineHeight = fs + 'px';
    t.innerHTML = name;
    document.body.appendChild(t);
  });
});
</script>
</body>
</html>
